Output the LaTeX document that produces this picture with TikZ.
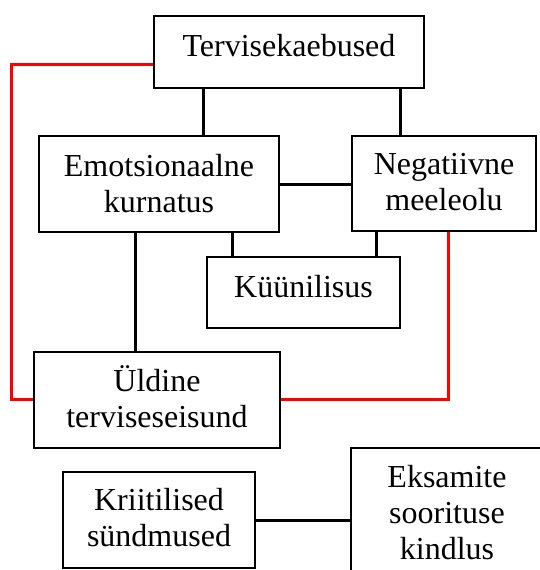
\documentclass[tikz,border=0pt]{standalone}
\usepackage{fontspec}
\setmainfont{Liberation Serif}
\newcommand\boxtext[2]{\raisebox{#1}[\height][\depth]{\begin{tabular}{@{}c@{}}#2\end{tabular}}}
\begin{document}
\begin{tikzpicture}[x=1pt,y=-1pt,
  box/.style={draw=black,line width=1.3pt,align=center,inner sep=0pt,
    font=\fontsize{32}{36}\selectfont},
  link/.style={draw=black,line width=3pt},
  redlink/.style={draw=red,line width=3pt,line join=miter}]
\useasboundingbox (0,0) rectangle (540,570);
\node[box,minimum width=270,minimum height=72] (T) at (289,52) {\boxtext{2.2pt}{Tervisekaebused}};
\node[box,minimum width=240,minimum height=96] (E) at (159,184) {\boxtext{-2.8pt}{Emotsionaalne\\kurnatus}};
\node[box,minimum width=184,minimum height=95] (N) at (444,183.5) {\boxtext{-2.2pt}{Negatiivne\\meeleolu}};
\node[box,minimum width=193,minimum height=71] (K) at (303.5,292.5) {\boxtext{2.7pt}{Küünilisus}};
\node[box,minimum width=246,minimum height=96] (U) at (157,400) {\boxtext{-1.5pt}{Üldine\\terviseseisund}};
\node[box,minimum width=192,minimum height=96] (R) at (159,520) {\boxtext{-1.5pt}{Kriitilised\\sündmused}};
\node[box,minimum width=192,minimum height=144] (X) at (447,520) {\boxtext{3.5pt}{Eksamite\\sooritus\-e\\kindlus}};
\draw[link] (T.south -| 203,0) -- (E.north -| 203,0);
\draw[link] (T.south -| 400,0) -- (N.north -| 400,0);
\draw[link] (E.east) -- (E.east -| N.west);
\draw[link] (E.south -| 135,0) -- (U.north -| 135,0);
\draw[link] (E.south -| 232,0) -- (K.north -| 232,0);
\draw[link] (N.south -| 376,0) -- (K.north -| 376,0);
\draw[link] (R.east) -- (X.west);
\draw[redlink] (T.west |- 0,64) -| (11,399) -- (U.west |- 0,399);
\draw[redlink] (N.south -| 448,0) |- (U.east |- 0,399);
\end{tikzpicture}
\end{document}
